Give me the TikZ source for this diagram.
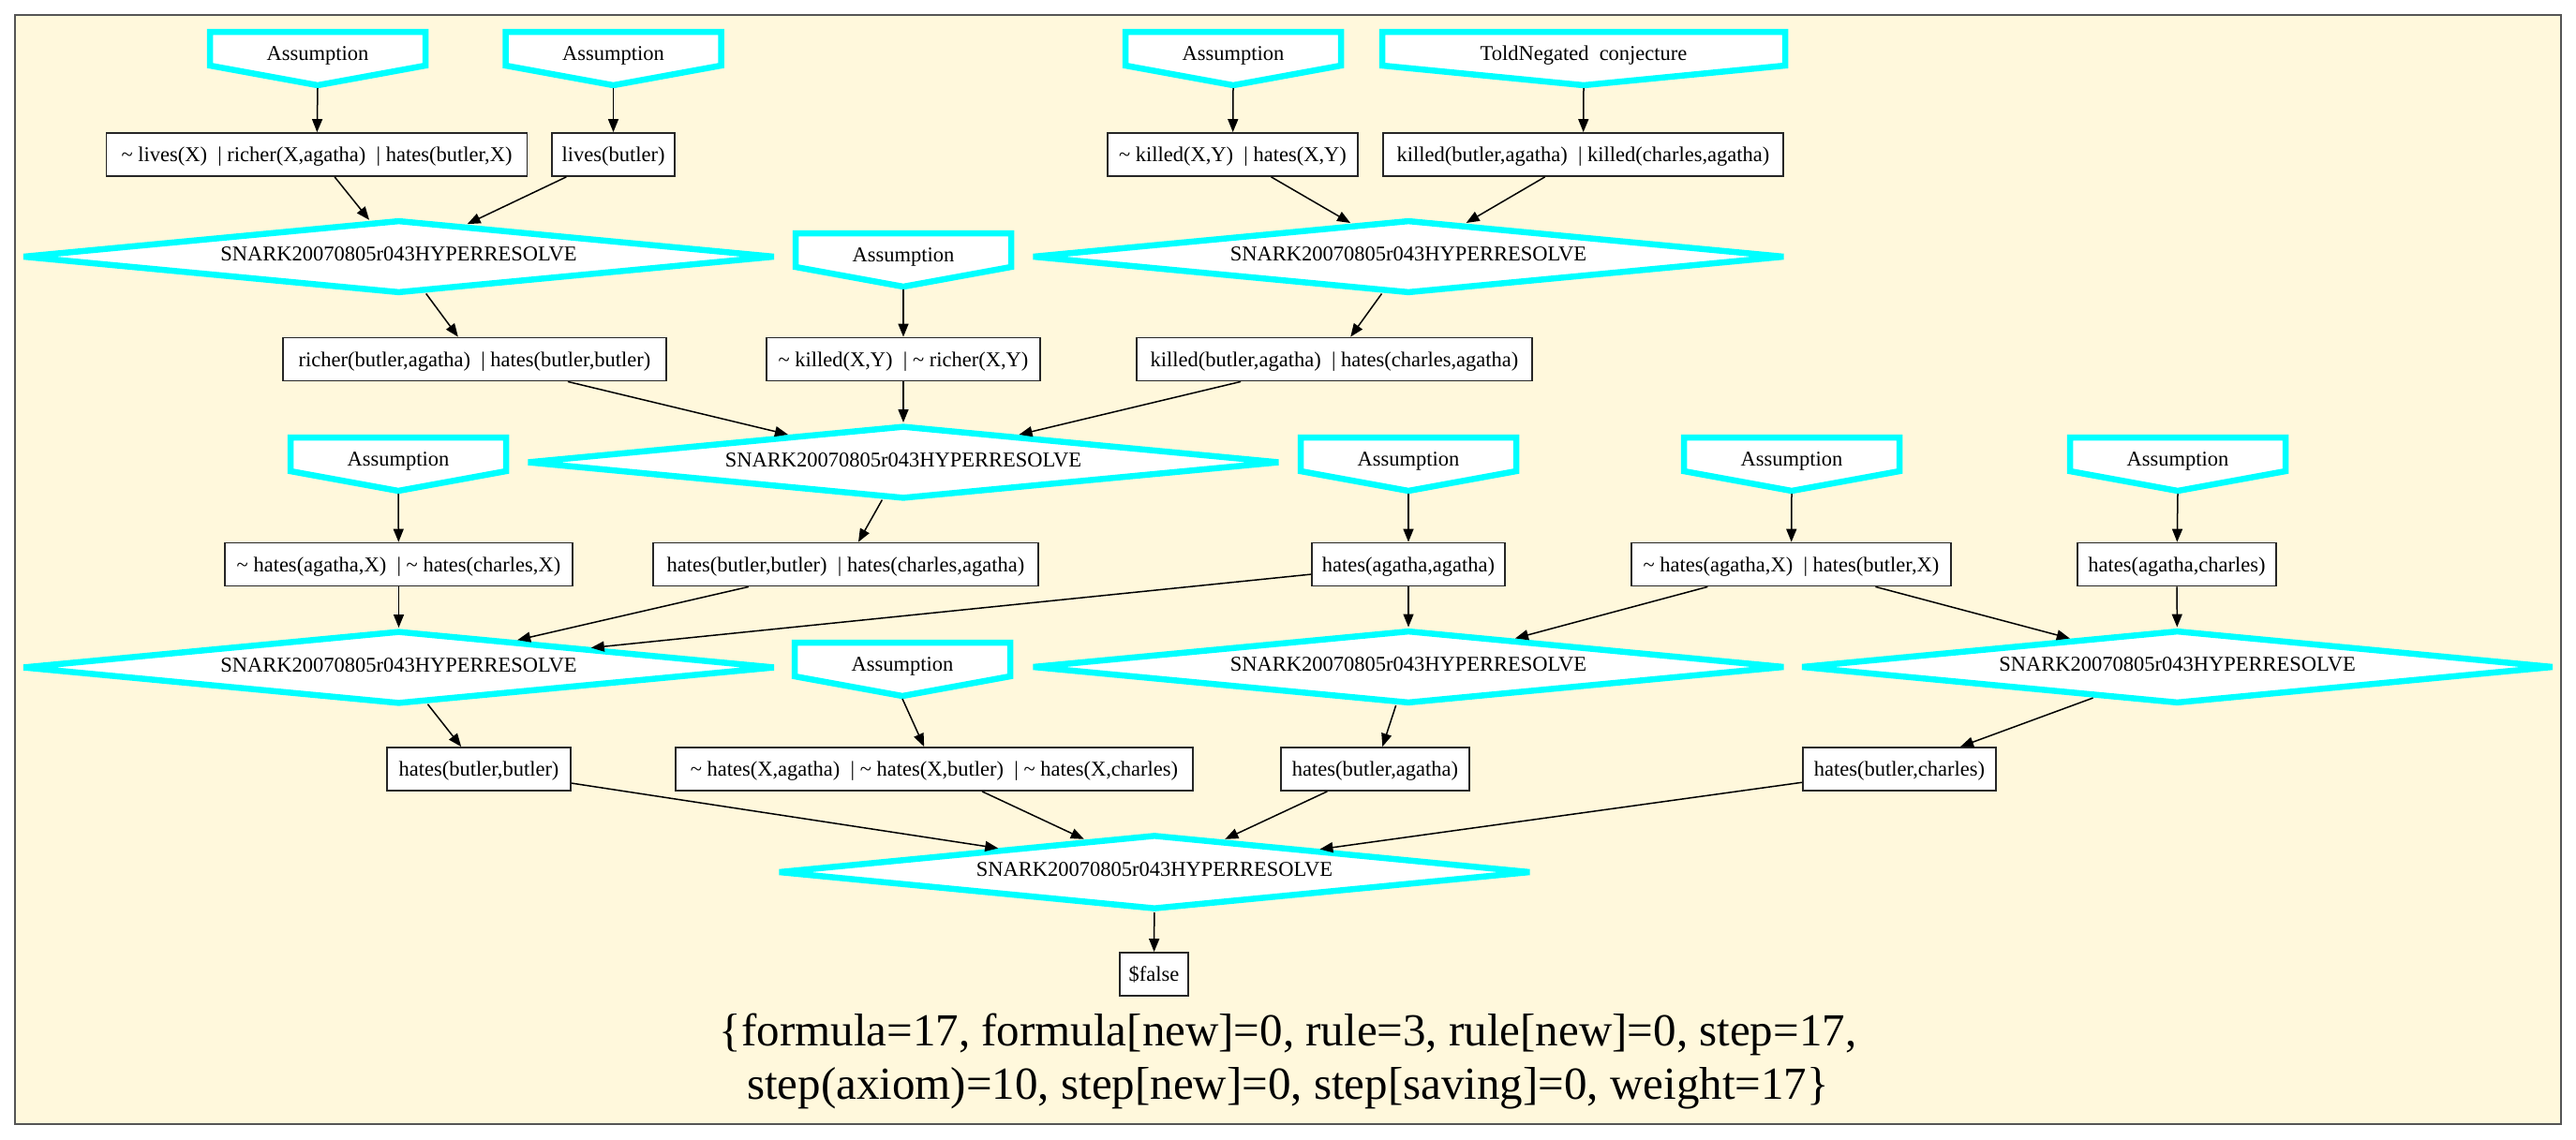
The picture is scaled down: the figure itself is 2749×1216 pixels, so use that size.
\documentclass[tikz,border=0pt]{standalone}
\usepackage{fontspec}
\setmainfont{Liberation Serif}
\usetikzlibrary{shapes.geometric,arrows.meta}
\definecolor{cornsilk}{HTML}{FFF8DC}
\definecolor{aqua}{HTML}{00FFFF}
\definecolor{framegray}{HTML}{555555}
\newcommand\asmnode[5]{%
  \draw[asmline] (#2-#4,#3-23) -- (#2+#4,#3-23) -- (#2+#4,#3+13) -- (#2,#3+34) -- (#2-#4,#3+13) -- cycle;
  \node[asmtext] (#1) at (#2,#3) {#5};
  \coordinate (#1-tip) at (#2,#3+37);
}
\newcommand\nt{\textasciitilde\ }
\tikzset{
  every node/.style={font=\fontsize{22.5}{27}\selectfont},
  asmline/.style={draw=aqua, line width=6.5pt, fill=white, line join=miter},
  asmtext/.style={inner sep=0pt, text height=15pt, text depth=0pt},
  clause/.style={rectangle, draw=black!85, line width=1.8pt, fill=white, minimum height=46pt, inner sep=0pt, text height=15pt, text depth=0pt},
  rulenode/.style={diamond, draw=aqua, line width=6.5pt, fill=white, aspect=10, minimum width=803.5pt, minimum height=78.5pt, inner sep=0pt, text height=15pt, text depth=6pt},
  link/.style={draw=black, line width=1.5pt, -{Triangle[length=14pt,width=11pt]}},
  stats/.style={anchor=base, inner sep=0pt, font=\fontsize{49}{57}\selectfont},
}
\begin{document}
\begin{tikzpicture}[x=1pt,y=-1pt]
\useasboundingbox (0,0) rectangle (2749,1216);
\fill[white] (0,0) rectangle (2749,1216);
\draw[fill=cornsilk, draw=framegray, line width=2pt] (16,16) rectangle (2733,1200);

% assumptions
\asmnode{A1}{339}{57}{115}{Assumption}
\asmnode{A2}{654.5}{57}{115}{Assumption}
\asmnode{A3}{1316}{57}{115}{Assumption}
\asmnode{TN}{1690}{57}{215}{ToldNegated\ \ conjecture}
\asmnode{A5}{964}{272}{115}{Assumption}
\asmnode{A4}{425}{490}{115}{Assumption}
\asmnode{A6}{1503}{490}{115}{Assumption}
\asmnode{A7}{1912}{490}{115}{Assumption}
\asmnode{A8}{2324}{490}{115}{Assumption}
\asmnode{A9}{963}{709}{115}{Assumption}

% clauses
\node[clause, minimum width=449pt] (B1) at (338,165) {\nt lives(X)\ \ | richer(X,agatha)\ \ | hates(butler,X)};
\node[clause, minimum width=131pt] (B2) at (654.5,165) {lives(butler)};
\node[clause, minimum width=267pt] (B3) at (1315.5,165) {\nt killed(X,Y)\ \ | hates(X,Y)};
\node[clause, minimum width=427pt] (B4) at (1689.5,165) {killed(butler,agatha)\ \ | killed(charles,agatha)};
\node[clause, minimum width=409pt] (C1) at (506.5,383.5) {richer(butler,agatha)\ \ | hates(butler,butler)};
\node[clause, minimum width=292pt] (C2) at (964,383.5) {\nt killed(X,Y)\ \ | \nt richer(X,Y)};
\node[clause, minimum width=422pt] (C3) at (1424,383.5) {killed(butler,agatha)\ \ | hates(charles,agatha)};
\node[clause, minimum width=371pt] (E1) at (425.5,602.5) {\nt hates(agatha,X)\ \ | \nt hates(charles,X)};
\node[clause, minimum width=411pt] (E2) at (902.5,602.5) {hates(butler,butler)\ \ | hates(charles,agatha)};
\node[clause, minimum width=206pt] (E3) at (1503,602.5) {hates(agatha,agatha)};
\node[clause, minimum width=341pt] (E4) at (1911.5,602.5) {\nt hates(agatha,X)\ \ | hates(butler,X)};
\node[clause, minimum width=212pt] (E5) at (2323,602.5) {hates(agatha,charles)};
\node[clause, minimum width=196pt] (F1) at (511,821) {hates(butler,butler)};
\node[clause, minimum width=552pt] (F2) at (997,821) {\nt hates(X,agatha)\ \ | \nt hates(X,butler)\ \ | \nt hates(X,charles)};
\node[clause, minimum width=201pt] (F3) at (1467.5,821) {hates(butler,agatha)};
\node[clause, minimum width=206pt] (F4) at (2027,821) {hates(butler,charles)};
\node[clause, minimum width=73pt] (FALSE) at (1231.5,1040) {\$false};

% rules
\node[rulenode] (D1) at (425.5,274) {SNARK20070805r043HYPERRESOLVE};
\node[rulenode] (D2) at (1503,274) {SNARK20070805r043HYPERRESOLVE};
\node[rulenode] (D4) at (964,493.5) {SNARK20070805r043HYPERRESOLVE};
\node[rulenode] (D3) at (425.5,712.5) {SNARK20070805r043HYPERRESOLVE};
\node[rulenode] (D5) at (1503,712) {SNARK20070805r043HYPERRESOLVE};
\node[rulenode] (D6) at (2323.5,712) {SNARK20070805r043HYPERRESOLVE};
\node[rulenode, minimum height=80pt] (D7) at (1232,931) {SNARK20070805r043HYPERRESOLVE};

% edges
\draw[link] (A1-tip) -- (B1);
\draw[link] (A2-tip) -- (B2);
\draw[link] (B1) -- (D1);
\draw[link] (B2) -- (D1);
\draw[link] (D1) -- (C1);
\draw[link] (A3-tip) -- (B3);
\draw[link] (TN-tip) -- (B4);
\draw[link] (B3) -- (D2);
\draw[link] (B4) -- (D2);
\draw[link] (D2) -- (C3);
\draw[link] (A5-tip) -- (C2);
\draw[link] (C1) -- (D4);
\draw[link] (C2) -- (D4);
\draw[link] (C3) -- (D4);
\draw[link] (D4) -- (E2);
\draw[link] (A4-tip) -- (E1);
\draw[link] (E1) -- (D3);
\draw[link] (E2) -- (D3);
\draw[link] (E3) -- (D3);
\draw[link] (D3) -- (F1);
\draw[link] (A6-tip) -- (E3);
\draw[link] (E3) -- (D5);
\draw[link] (E4) -- (D5);
\draw[link] (D5) -- (F3);
\draw[link] (A7-tip) -- (E4);
\draw[link] (E4) -- (D6);
\draw[link] (A8-tip) -- (E5);
\draw[link] (E5) -- (D6);
\draw[link] (D6) -- (F4);
\draw[link] (A9-tip) -- (F2);
\draw[link] (F1) -- (D7);
\draw[link] (F2) -- (D7);
\draw[link] (F3) -- (D7);
\draw[link] (F4) -- (D7);
\draw[link] (D7) -- (FALSE);

% statistics
\node[stats] (stats1) at (1374.5,1116) {\{formula=17, formula[new]=0, rule=3, rule[new]=0, step=17,};
\node[stats] (stats2) at (1374.5,1173) {step(axiom)=10, step[new]=0, step[saving]=0, weight=17\}};
\end{tikzpicture}
\end{document}
